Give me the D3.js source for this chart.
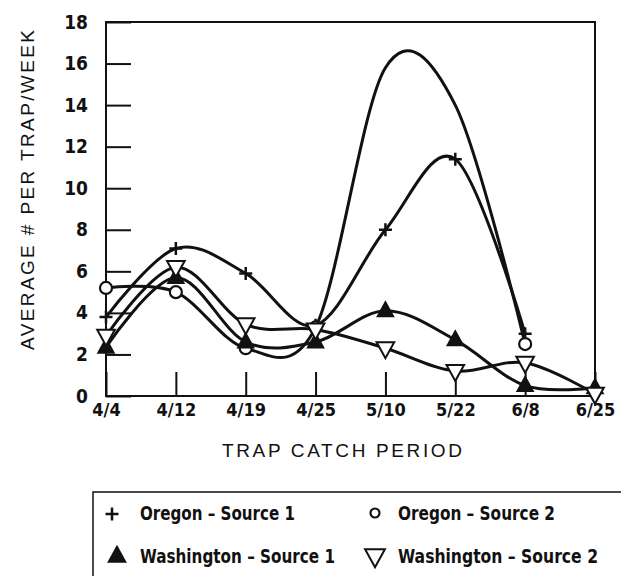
<!DOCTYPE html>
<html><head><meta charset="utf-8">
<script src="https://cdn.jsdelivr.net/npm/d3@7"></script>
<style>
html,body{margin:0;padding:0;background:#fff;}
svg{display:block;}
.tick text{font-family:"DejaVu Sans Condensed","Liberation Sans Narrow","Liberation Sans",sans-serif;font-weight:bold;fill:#111;}
</style></head>
<body>
<svg id="c" width="621" height="576"></svg>
<script>
const dates = ["4/4","4/12","4/19","4/25","5/10","5/22","6/8","6/25"];
const oregon1 = [3.8, 7.1, 5.9, 3.4, 8.0, 11.4, 3.0, null];
const oregon2 = [5.2, 5.0, 2.3, 3.3, 15.8, 14.0, 2.5, null];
const oregon2Marked = [true, true, true, true, false, false, true, false];
const washington1 = [2.35, 5.7, 2.6, 2.6, 4.1, 2.7, 0.5, 0.4];
const washington2 = [2.9, 6.2, 3.45, 3.2, 2.3, 1.2, 1.6, 0.1];
const yTicks = [0, 2, 4, 6, 8, 10, 12, 14, 16, 18];
const seriesNames = ["Oregon \u2013 Source 1", "Oregon \u2013 Source 2", "Washington \u2013 Source 1", "Washington \u2013 Source 2"];

const svg = d3.select("#c");
const L = 106, R = 595, T = 22, B = 396;
const x = d3.scalePoint().domain(dates).range([L, R]);
const y = d3.scaleLinear().domain([0, 18]).range([B, T]);
const ink = "#111";

// frame
svg.append("rect").attr("x", L).attr("y", T).attr("width", R - L).attr("height", B - T)
  .attr("fill", "none").attr("stroke", ink).attr("stroke-width", 2);

// y axis
const ya = svg.append("g").attr("transform", `translate(${L},0)`)
  .call(d3.axisLeft(y).tickValues(yTicks).tickSize(-25).tickPadding(18).tickFormat(d3.format("d")));
ya.select(".domain").remove();
ya.selectAll(".tick line").attr("stroke", ink).attr("stroke-width", 2);
ya.selectAll(".tick text").attr("font-size", 19);

// x axis
const xa = svg.append("g").attr("transform", `translate(0,${B})`)
  .call(d3.axisBottom(x).tickSize(-24).tickPadding(7));
xa.select(".domain").remove();
xa.selectAll(".tick line").attr("stroke", ink).attr("stroke-width", 2);
xa.selectAll(".tick text").attr("font-size", 18);

// titles
svg.append("text").attr("transform", "translate(34,190) rotate(-90)")
  .attr("text-anchor", "middle").attr("font-family", "Liberation Sans, Arial, sans-serif")
  .attr("font-size", 19).attr("fill", ink)
  .attr("textLength", 320).attr("lengthAdjust", "spacing")
  .text("AVERAGE # PER TRAP/WEEK");
svg.append("text").attr("x", 342).attr("y", 457)
  .attr("text-anchor", "middle").attr("font-family", "Liberation Sans, Arial, sans-serif")
  .attr("font-size", 19).attr("fill", ink)
  .attr("textLength", 240).attr("lengthAdjust", "spacing")
  .text("TRAP CATCH PERIOD");

// lines
const line = d3.line()
  .defined(d => d.v != null)
  .x(d => x(d.d)).y(d => y(d.v))
  .curve(d3.curveCardinal.tension(0));
const series = [oregon1, oregon2, washington1, washington2];
const toPts = arr => dates.map((d, i) => ({d, v: arr[i]}));
series.forEach(arr => {
  svg.append("path").attr("d", line(toPts(arr)))
    .attr("fill", "none").attr("stroke", ink).attr("stroke-width", 3)
    .attr("stroke-linejoin", "round").attr("stroke-linecap", "round");
});

// markers
const upTri = (s) => `M0,${-s*0.62}L${s*0.55},${s*0.38}L${-s*0.55},${s*0.38}Z`;
const downTri = (s) => `M0,${s*0.62}L${s*0.55},${-s*0.38}L${-s*0.55},${-s*0.38}Z`;
function marker(g, type, cx, cy, s) {
  const m = g.append("g").attr("transform", `translate(${cx},${cy})`);
  if (type === 0) {
    m.append("path").attr("d", `M${-s/2},0H${s/2}M0,${-s/2}V${s/2}`)
      .attr("stroke", ink).attr("stroke-width", 2.5).attr("fill", "none");
  } else if (type === 1) {
    m.append("circle").attr("r", s/2).attr("fill", "#fff").attr("stroke", ink).attr("stroke-width", 2.2);
  } else if (type === 2) {
    m.append("path").attr("d", upTri(s)).attr("fill", ink);
  } else {
    m.append("path").attr("d", downTri(s)).attr("fill", "#fff").attr("stroke", ink).attr("stroke-width", 2);
  }
}
const mg = svg.append("g");
const sizes = [13, 12, 17, 16];
series.forEach((arr, k) => {
  arr.forEach((v, i) => {
    if (v == null) return;
    if (k === 1 && !oregon2Marked[i]) return;
    marker(mg, k, x(dates[i]), y(v), sizes[k]);
  });
});

// legend
svg.append("rect").attr("x", 93).attr("y", 492).attr("width", 560).attr("height", 120)
  .attr("fill", "none").attr("stroke", ink).attr("stroke-width", 1.5);
const lg = svg.append("g");
const legPos = [[112, 514, 140, 520], [375, 513, 398, 520], [117, 556, 140, 563], [375, 556, 398, 563]];
const legW = [155, 157, 195, 200];
seriesNames.forEach((n, k) => {
  const [mx, my, tx, ty] = legPos[k];
  marker(lg, k, mx, my, k === 1 ? 9 : (k === 0 ? 13 : 18));
  lg.append("text").attr("x", tx).attr("y", ty)
    .attr("font-family", "DejaVu Sans Condensed, Liberation Sans Narrow, sans-serif")
    .attr("font-weight", "bold").attr("font-size", 19).attr("fill", ink)
    .attr("textLength", legW[k]).attr("lengthAdjust", "spacingAndGlyphs")
    .text(n);
});
</script>
</body></html>
